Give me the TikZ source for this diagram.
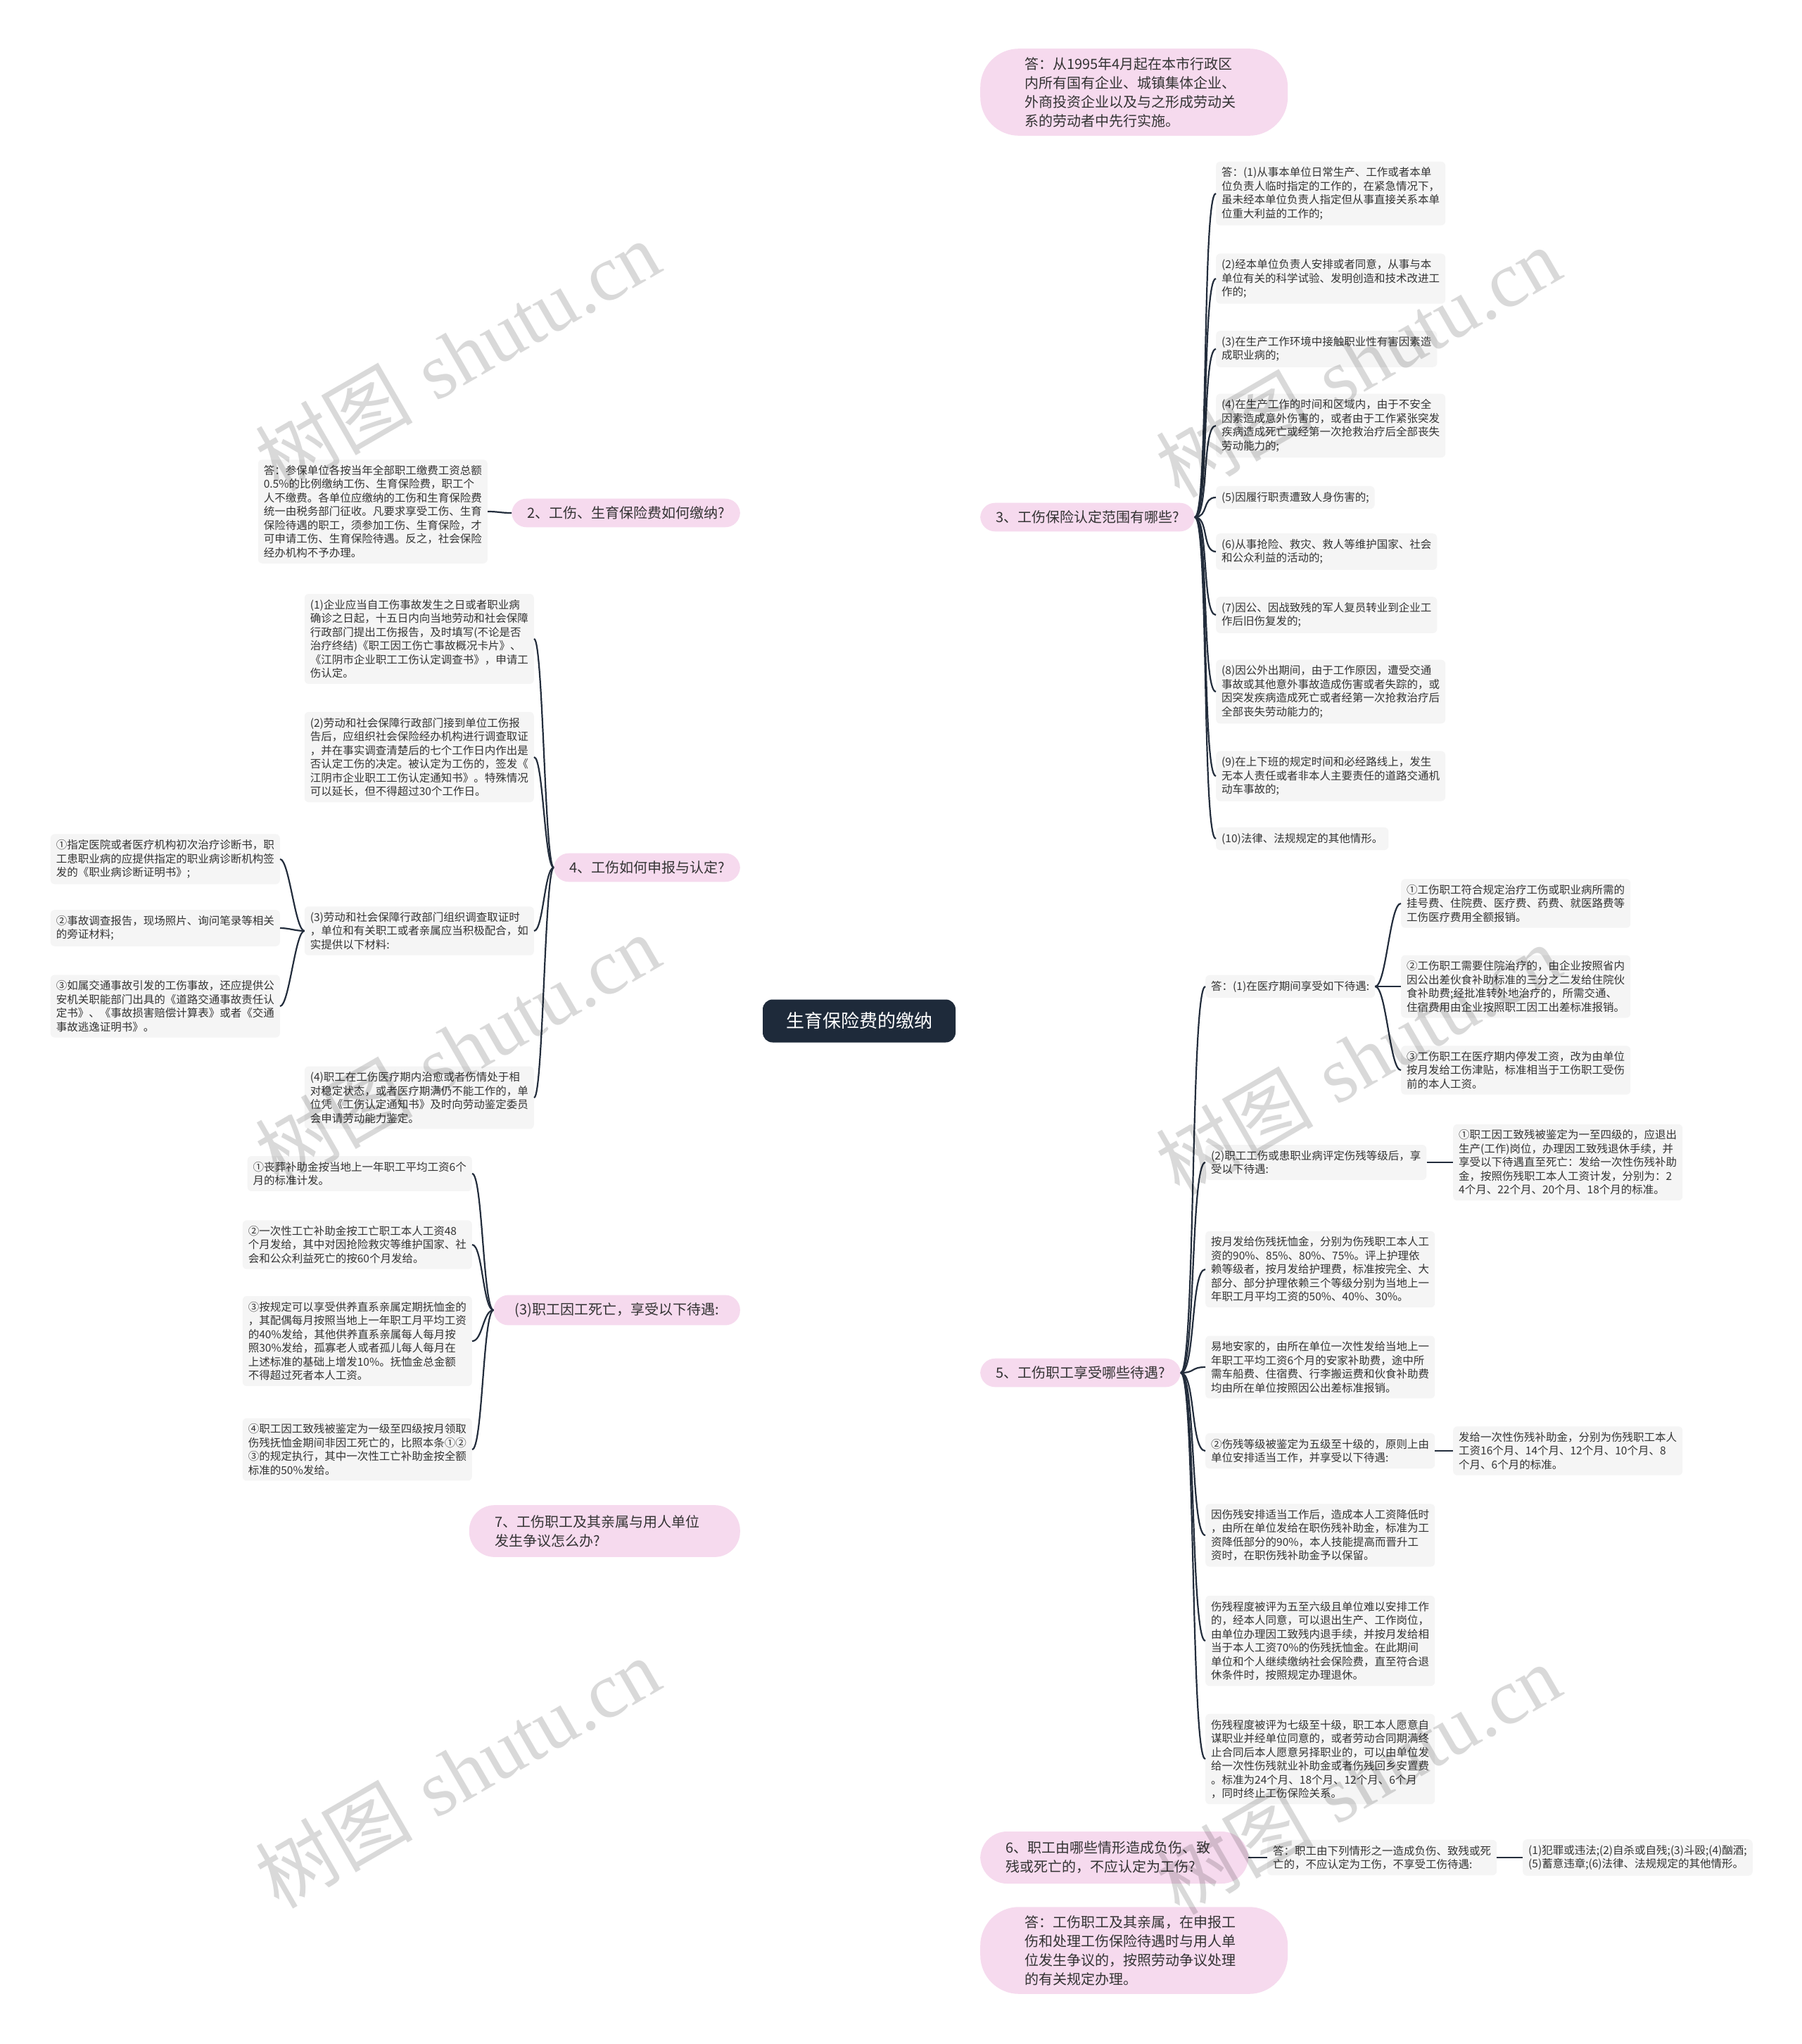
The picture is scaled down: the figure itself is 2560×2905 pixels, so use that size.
\documentclass[tikz,border=0pt]{standalone}
\usepackage{fontspec}
\newfontfamily\cjk{Noto Sans CJK SC}
\newfontfamily\wmserif{Liberation Serif}
\usetikzlibrary{backgrounds}
\definecolor{pinkc}{RGB}{246,218,238}
\definecolor{greyc}{RGB}{245,245,245}
\definecolor{navyc}{RGB}{30,42,58}
\definecolor{linec}{RGB}{35,45,60}
\definecolor{txtc}{RGB}{51,51,51}
\tikzset{
  gbox/.style={fill=greyc, rounded corners=6pt, inner xsep=8pt, inner ysep=8pt, align=left, text=txtc, font=\cjk\fontsize{15.5}{19.5}\selectfont},
  pbox/.style={fill=pinkc, rounded corners=21pt, inner xsep=22pt, inner ysep=11pt, align=left, text=txtc, font=\cjk\fontsize{20}{27}\selectfont},
  conn/.style={draw=linec, line width=2.2pt},
  wm/.style={rotate=30, text=black, text opacity=0.15, font=\fontsize{112}{112}\selectfont}
}
\begin{document}
\begin{tikzpicture}[x=1pt,y=-1pt]
\useasboundingbox[fill=white] (0,0) rectangle (2560,2905);

% center
\node[fill=navyc, rounded corners=14pt, text=white, font=\cjk\fontsize{26}{30}\selectfont, minimum width=274pt, minimum height=61pt, inner sep=0pt] (C) at (1221,1451) {生育保险费的缴纳};

% ---------- right side ----------
\node[pbox, anchor=west, text width=311pt, inner xsep=63pt, inner ysep=12pt, rounded corners=55pt] (R1) at (1393,131) {答：从1995年4月起在本市行政区\\内所有国有企业、城镇集体企业、\\外商投资企业以及与之形成劳动关\\系的劳动者中先行实施。};

\node[pbox, anchor=west] (R3) at (1393,735) {3、工伤保险认定范围有哪些?};
\node[gbox, anchor=west] (s3a) at (1728,275) {答：(1)从事本单位日常生产、工作或者本单\\位负责人临时指定的工作的，在紧急情况下，\\虽未经本单位负责人指定但从事直接关系本单\\位重大利益的工作的;};
\node[gbox, anchor=west] (s3b) at (1728,396) {(2)经本单位负责人安排或者同意，从事与本\\单位有关的科学试验、发明创造和技术改进工\\作的;};
\node[gbox, anchor=west] (s3c) at (1728,496) {(3)在生产工作环境中接触职业性有害因素造\\成职业病的;};
\node[gbox, anchor=west] (s3d) at (1728,605) {(4)在生产工作的时间和区域内，由于不安全\\因素造成意外伤害的，或者由于工作紧张突发\\疾病造成死亡或经第一次抢救治疗后全部丧失\\劳动能力的;};
\node[gbox, anchor=west] (s3e) at (1728,707) {(5)因履行职责遭致人身伤害的;};
\node[gbox, anchor=west] (s3f) at (1728,784) {(6)从事抢险、救灾、救人等维护国家、社会\\和公众利益的活动的;};
\node[gbox, anchor=west] (s3g) at (1728,874) {(7)因公、因战致残的军人复员转业到企业工\\作后旧伤复发的;};
\node[gbox, anchor=west] (s3h) at (1728,983) {(8)因公外出期间，由于工作原因，遭受交通\\事故或其他意外事故造成伤害或者失踪的，或\\因突发疾病造成死亡或者经第一次抢救治疗后\\全部丧失劳动能力的;};
\node[gbox, anchor=west] (s3i) at (1728,1103) {(9)在上下班的规定时间和必经路线上，发生\\无本人责任或者非本人主要责任的道路交通机\\动车事故的;};
\node[gbox, anchor=west] (s3j) at (1728,1192) {(10)法律、法规规定的其他情形。};

\node[pbox, anchor=west] (R5) at (1393,1951) {5、工伤职工享受哪些待遇?};
\node[gbox, anchor=west] (s5a) at (1713,1402) {答：(1)在医疗期间享受如下待遇:};
\node[gbox, anchor=west] (s5aa) at (1991,1284) {①工伤职工符合规定治疗工伤或职业病所需的\\挂号费、住院费、医疗费、药费、就医路费等\\工伤医疗费用全额报销。};
\node[gbox, anchor=west] (s5ab) at (1991,1402) {②工伤职工需要住院治疗的，由企业按照省内\\因公出差伙食补助标准的三分之二发给住院伙\\食补助费;经批准转外地治疗的，所需交通、\\住宿费用由企业按照职工因工出差标准报销。};
\node[gbox, anchor=west] (s5ac) at (1991,1521) {③工伤职工在医疗期内停发工资，改为由单位\\按月发给工伤津贴，标准相当于工伤职工受伤\\前的本人工资。};
\node[gbox, anchor=west] (s5b) at (1713,1652) {(2)职工工伤或患职业病评定伤残等级后，享\\受以下待遇:};
\node[gbox, anchor=west] (s5ba) at (2065,1652) {①职工因工致残被鉴定为一至四级的，应退出\\生产(工作)岗位，办理因工致残退休手续，并\\享受以下待遇直至死亡：发给一次性伤残补助\\金，按照伤残职工本人工资计发，分别为：2\\4个月、22个月、20个月、18个月的标准。};
\node[gbox, anchor=west] (s5c) at (1713,1804) {按月发给伤残抚恤金，分别为伤残职工本人工\\资的90\%、85\%、80\%、75\%。评上护理依\\赖等级者，按月发给护理费，标准按完全、大\\部分、部分护理依赖三个等级分别为当地上一\\年职工月平均工资的50\%、40\%、30\%。};
\node[gbox, anchor=west] (s5d) at (1713,1943) {易地安家的，由所在单位一次性发给当地上一\\年职工平均工资6个月的安家补助费，途中所\\需车船费、住宿费、行李搬运费和伙食补助费\\均由所在单位按照因公出差标准报销。};
\node[gbox, anchor=west] (s5e) at (1713,2062) {②伤残等级被鉴定为五级至十级的，原则上由\\单位安排适当工作，并享受以下待遇:};
\node[gbox, anchor=west] (s5ea) at (2065,2062) {发给一次性伤残补助金，分别为伤残职工本人\\工资16个月、14个月、12个月、10个月、8\\个月、6个月的标准。};
\node[gbox, anchor=west] (s5f) at (1713,2182) {因伤残安排适当工作后，造成本人工资降低时\\，由所在单位发给在职伤残补助金，标准为工\\资降低部分的90\%，本人技能提高而晋升工\\资时，在职伤残补助金予以保留。};
\node[gbox, anchor=west] (s5g) at (1713,2332) {伤残程度被评为五至六级且单位难以安排工作\\的，经本人同意，可以退出生产、工作岗位，\\由单位办理因工致残内退手续，并按月发给相\\当于本人工资70\%的伤残抚恤金。在此期间\\单位和个人继续缴纳社会保险费，直至符合退\\休条件时，按照规定办理退休。};
\node[gbox, anchor=west] (s5h) at (1713,2500) {伤残程度被评为七级至十级，职工本人愿意自\\谋职业并经单位同意的，或者劳动合同期满终\\止合同后本人愿意另择职业的，可以由单位发\\给一次性伤残就业补助金或者伤残回乡安置费\\。标准为24个月、18个月、12个月、6个月\\，同时终止工伤保险关系。};

\node[pbox, anchor=west, text width=309pt, inner xsep=36pt, inner ysep=14pt, rounded corners=38pt] (R6) at (1393,2640) {6、职工由哪些情形造成负伤、致\\残或死亡的，不应认定为工伤?};
\node[gbox, anchor=west] (R6a) at (1801,2640) {答：职工由下列情形之一造成负伤、致残或死\\亡的，不应认定为工伤，不享受工伤待遇:};
\node[gbox, anchor=west] (R6b) at (2164,2640) {(1)犯罪或违法;(2)自杀或自残;(3)斗殴;(4)酗酒;\\(5)蓄意违章;(6)法律、法规规定的其他情形。};

\node[pbox, anchor=west, text width=311pt, inner xsep=63pt, inner ysep=12pt, rounded corners=55pt] (R8) at (1393,2772) {答：工伤职工及其亲属，在申报工\\伤和处理工伤保险待遇时与用人单\\位发生争议的，按照劳动争议处理\\的有关规定办理。};

% ---------- left side ----------
\node[pbox, anchor=east] (L2) at (1052,729) {2、工伤、生育保险费如何缴纳?};
\node[gbox, anchor=east] (L2a) at (693,727) {答：参保单位各按当年全部职工缴费工资总额\\0.5\%的比例缴纳工伤、生育保险费，职工个\\人不缴费。各单位应缴纳的工伤和生育保险费\\统一由税务部门征收。凡要求享受工伤、生育\\保险待遇的职工，须参加工伤、生育保险，才\\可申请工伤、生育保险待遇。反之，社会保险\\经办机构不予办理。};

\node[pbox, anchor=east] (L4) at (1052,1233) {4、工伤如何申报与认定?};
\node[gbox, anchor=east] (s4a) at (759,908) {(1)企业应当自工伤事故发生之日或者职业病\\确诊之日起，十五日内向当地劳动和社会保障\\行政部门提出工伤报告，及时填写(不论是否\\治疗终结)《职工因工伤亡事故概况卡片》、\\《江阴市企业职工工伤认定调查书》，申请工\\伤认定。};
\node[gbox, anchor=east] (s4b) at (759,1076) {(2)劳动和社会保障行政部门接到单位工伤报\\告后，应组织社会保险经办机构进行调查取证\\，并在事实调查清楚后的七个工作日内作出是\\否认定工伤的决定。被认定为工伤的，签发《\\江阴市企业职工工伤认定通知书》。特殊情况\\可以延长，但不得超过30个工作日。};
\node[gbox, anchor=east] (s4c) at (759,1323) {(3)劳动和社会保障行政部门组织调查取证时\\，单位和有关职工或者亲属应当积极配合，如\\实提供以下材料:};
\node[gbox, anchor=east] (s4ca) at (398,1221) {①指定医院或者医疗机构初次治疗诊断书，职\\工患职业病的应提供指定的职业病诊断机构签\\发的《职业病诊断证明书》;};
\node[gbox, anchor=east] (s4cb) at (398,1319) {②事故调查报告，现场照片、询问笔录等相关\\的旁证材料;};
\node[gbox, anchor=east] (s4cc) at (398,1430) {③如属交通事故引发的工伤事故，还应提供公\\安机关职能部门出具的《道路交通事故责任认\\定书》、《事故损害赔偿计算表》或者《交通\\事故逃逸证明书》。};
\node[gbox, anchor=east] (s4d) at (759,1560) {(4)职工在工伤医疗期内治愈或者伤情处于相\\对稳定状态，或者医疗期满仍不能工作的，单\\位凭《工伤认定通知书》及时向劳动鉴定委员\\会申请劳动能力鉴定。};

\node[pbox, anchor=east, inner xsep=30pt] (L3) at (1052,1862) {(3)职工因工死亡，享受以下待遇:};
\node[gbox, anchor=east] (d1) at (671,1668) {①丧葬补助金按当地上一年职工平均工资6个\\月的标准计发。};
\node[gbox, anchor=east] (d2) at (671,1769) {②一次性工亡补助金按工亡职工本人工资48\\个月发给，其中对因抢险救灾等维护国家、社\\会和公众利益死亡的按60个月发给。};
\node[gbox, anchor=east] (d3) at (671,1906) {③按规定可以享受供养直系亲属定期抚恤金的\\，其配偶每月按照当地上一年职工月平均工资\\的40\%发给，其他供养直系亲属每人每月按\\照30\%发给，孤寡老人或者孤儿每人每月在\\上述标准的基础上增发10\%。抚恤金总金额\\不得超过死者本人工资。};
\node[gbox, anchor=east] (d4) at (671,2060) {④职工因工致残被鉴定为一级至四级按月领取\\伤残抚恤金期间非因工死亡的，比照本条①②\\③的规定执行，其中一次性工亡补助金按全额\\标准的50\%发给。};

\node[pbox, anchor=east, text width=311pt, inner xsep=37pt, inner ysep=14pt, rounded corners=36pt] (L7) at (1052,2176) {7、工伤职工及其亲属与用人单位\\发生争议怎么办?};

% ---------- connectors ----------
\begin{pgfonlayer}{background}
\draw[conn] (C.center) .. controls +(0,-660) and +(-150,0) .. (R1.west);
\draw[conn] (C.center) .. controls +(0,-358) and +(-150,0) .. (R3.west);
\draw[conn] (C.center) .. controls +(0,250) and +(-150,0) .. (R5.west);
\draw[conn] (C.center) .. controls +(0,595) and +(-150,0) .. (R6.west);
\draw[conn] (C.center) .. controls +(0,660) and +(-150,0) .. (R8.west);
\draw[conn] (C.center) .. controls +(0,-361) and +(150,0) .. (L2.east);
\draw[conn] (C.center) .. controls +(0,-109) and +(150,0) .. (L4.east);
\draw[conn] (C.center) .. controls +(0,205) and +(150,0) .. (L3.east);
\draw[conn] (C.center) .. controls +(0,362) and +(150,0) .. (L7.east);
\end{pgfonlayer}

\foreach \n in {s3a,s3b,s3c,s3d,s3e,s3f,s3g,s3h,s3i,s3j}
  \draw[conn] (R3.east) .. controls +(20,0) and +(-20,0) .. (\n.west);
\foreach \n in {s5a,s5b,s5c,s5d,s5e,s5f,s5g,s5h}
  \draw[conn] (R5.east) .. controls +(21,0) and +(-21,0) .. (\n.west);
\foreach \n in {s5aa,s5ab,s5ac}
  \draw[conn] (s5a.east) .. controls +(16,0) and +(-16,0) .. (\n.west);
\draw[conn] (s5b.east) -- (s5ba.west);
\draw[conn] (s5e.east) -- (s5ea.west);
\draw[conn] (R6.east) -- (R6a.west);
\draw[conn] (R6a.east) -- (R6b.west);

\draw[conn] (L2.west) .. controls +(-16,0) and +(16,0) .. (L2a.east);
\foreach \n in {s4a,s4b,s4c,s4d}
  \draw[conn] (L4.west) .. controls +(-13,0) and +(13,0) .. (\n.east);
\foreach \n in {s4ca,s4cb,s4cc}
  \draw[conn] (s4c.west) .. controls +(-13,0) and +(13,0) .. (\n.east);
\foreach \n in {d1,d2,d3,d4}
  \draw[conn] (L3.west) .. controls +(-15,0) and +(15,0) .. (\n.east);

% ---------- watermarks ----------
\foreach \p [count=\i] in {{(650,505)},{(1930,514)},{(650,1491)},{(1930,1505)},{(650,2519)},{(1930,2528)}}
  \node[wm] (wm\i) at \p {{\cjk 树图} {\wmserif shutu.cn}};
\end{tikzpicture}
\end{document}
